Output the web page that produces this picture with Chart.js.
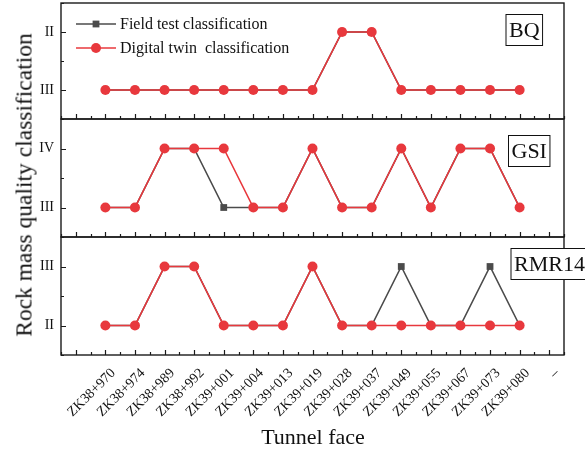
<!DOCTYPE html>
<html>
<head>
<meta charset="utf-8">
<script src="https://cdn.jsdelivr.net/npm/chart.js@4.4.1/dist/chart.umd.min.js"></script>
<style>
html, body { margin: 0; padding: 0; background: #fff; }
#wrap { position: relative; width: 585px; height: 450px; overflow: hidden; font-family: "Liberation Serif", "Times New Roman", serif; color: #111; }
#wrap canvas { position: absolute; left: 0; }
#ytitle { position: absolute; left: 24px; top: 185px; transform: translate(-50%, -50%) rotate(-90deg); white-space: nowrap; font-size: 23.5px; }
#xtitle { position: absolute; left: 313px; top: 437px; transform: translate(-50%, -50%); white-space: nowrap; font-size: 22px; }
</style>
</head>
<body>
<div id="wrap">
    <canvas id="c1" width="585" height="122" style="top:0px"></canvas>
    <canvas id="c2" width="585" height="124" style="top:116px"></canvas>
    <canvas id="c3" width="585" height="216" style="top:234px"></canvas>
    <div id="ytitle">Rock mass quality classification</div>
    <div id="xtitle">Tunnel face</div>
</div>

<script>
// =============================
// DATOS
// =============================
const tunnelFaces = [
    "ZK38+970", "ZK38+974", "ZK38+989", "ZK38+992", "ZK39+001",
    "ZK39+004", "ZK39+013", "ZK39+019", "ZK39+028", "ZK39+037",
    "ZK39+049", "ZK39+055", "ZK39+067", "ZK39+073", "ZK39+080"
];
const endLabel = "–";

const gradeLabels = { 2: "II", 3: "III", 4: "IV" };

const seriesNames = ["Field test classification", "Digital twin  classification"];

// II = 2, III = 3, IV = 4
const bqField  = [3, 3, 3, 3, 3, 3, 3, 3, 2, 2, 3, 3, 3, 3, 3];
const bqTwin   = [3, 3, 3, 3, 3, 3, 3, 3, 2, 2, 3, 3, 3, 3, 3];

const gsiField = [3, 3, 4, 4, 3, 3, 3, 4, 3, 3, 4, 3, 4, 4, 3];
const gsiTwin  = [3, 3, 4, 4, 4, 3, 3, 4, 3, 3, 4, 3, 4, 4, 3];

const rmrField = [2, 2, 3, 3, 2, 2, 2, 3, 2, 2, 3, 2, 2, 3, 2];
const rmrTwin  = [2, 2, 3, 3, 2, 2, 2, 3, 2, 2, 2, 2, 2, 2, 2];

const colorField = "#4b4b4b";
const colorTwin = "#e8383d";

// =============================
// PANELES
// =============================
const panels = [
    { canvas: "c1", name: "BQ",    field: bqField,  twin: bqTwin,  yMin: 1.5, yMax: 3.5, reverse: true,  boxX: 505.5, boxY: 14, legend: true,  xLabels: false },
    { canvas: "c2", name: "GSI",   field: gsiField, twin: gsiTwin, yMin: 2.5, yMax: 4.5, reverse: false, boxX: 508,   boxY: 19, legend: false, xLabels: false },
    { canvas: "c3", name: "RMR14", field: rmrField, twin: rmrTwin, yMin: 1.5, yMax: 3.5, reverse: false, boxX: 510.5, boxY: 14, legend: false, xLabels: true }
];

function toPoints(arr){
    return arr.map(function(v, i){ return { x: i, y: v }; });
}

// ticks solo en valores enteros dentro del rango
function integerTicks(s){
    let t = [];
    for(let v = Math.ceil(s.min); v <= Math.floor(s.max); v++){
        t.push({ value: v });
    }
    s.ticks = t;
}

function noPadding(s){
    s.paddingTop = 0;
    s.paddingBottom = 0;
    s.paddingLeft = 0;
    s.paddingRight = 0;
}

// marco, ticks interiores, etiqueta del panel y leyenda
const panelDecor = {
    id: "panelDecor",
    afterDatasetsDraw(chart, args, opts){
        const ctx = chart.ctx;
        const a = chart.chartArea;
        const xs = chart.scales.x;
        const ys = chart.scales.y;

        ctx.save();
        ctx.strokeStyle = "#1a1a1a";
        ctx.lineWidth = 1.4;
        ctx.strokeRect(a.left, a.top, a.right - a.left, a.bottom - a.top);

        ctx.lineWidth = 1.2;
        ctx.beginPath();
        for(let v = Math.ceil(xs.min * 2) / 2; v <= xs.max; v += 0.5){
            const px = Math.round(xs.getPixelForValue(v)) + 0.5;
            const len = Number.isInteger(v) ? 5 : 3;
            ctx.moveTo(px, a.bottom);
            ctx.lineTo(px, a.bottom - len);
        }
        for(let v = Math.ceil(ys.min * 2) / 2; v <= ys.max; v += 0.5){
            const py = Math.round(ys.getPixelForValue(v)) + 0.5;
            const len = Number.isInteger(v) ? 5 : 3;
            ctx.moveTo(a.left, py);
            ctx.lineTo(a.left + len, py);
        }
        ctx.stroke();

        // etiqueta con caja
        ctx.font = "22px 'Liberation Serif'";
        const tw = ctx.measureText(opts.name).width;
        const bx = opts.boxX, by = a.top + opts.boxY - 3, bw = tw + 6, bh = 31;
        ctx.fillStyle = "#fff";
        ctx.fillRect(bx, by, bw, bh);
        ctx.lineWidth = 1;
        ctx.strokeStyle = "#111";
        ctx.strokeRect(bx + 0.5, by + 0.5, bw, bh);
        ctx.fillStyle = "#111";
        ctx.textBaseline = "middle";
        ctx.fillText(opts.name, bx + 3.5, by + bh / 2 + 1.5);

        if(opts.legend){
            const rows = [
                { text: seriesNames[0], color: colorField, style: "rect", y: 24 },
                { text: seriesNames[1], color: colorTwin,  style: "circle", y: 48 }
            ];
            rows.forEach(function(r){
                ctx.strokeStyle = r.color;
                ctx.lineWidth = 1.5;
                ctx.beginPath();
                ctx.moveTo(76, r.y);
                ctx.lineTo(116, r.y);
                ctx.stroke();
                ctx.fillStyle = r.color;
                Chart.helpers.drawPoint(ctx, { pointStyle: r.style, radius: r.style === "rect" ? 4.8 : 5, borderWidth: 0 }, 96, r.y);
                ctx.fillStyle = "#111";
                ctx.font = "16px 'Liberation Serif'";
                ctx.textBaseline = "middle";
                ctx.fillText(r.text, 120, r.y + 1);
            });
        }
        ctx.restore();
    }
};

Chart.defaults.font.family = "'Liberation Serif', 'Times New Roman', serif";
Chart.defaults.color = "#111";

panels.forEach(function(p){

    let ctx = document.getElementById(p.canvas).getContext("2d");

    new Chart(ctx, {

        type: "line",

        data: {
            datasets: [
                {
                    label: seriesNames[1],
                    data: toPoints(p.twin),
                    order: 0,
                    borderColor: colorTwin,
                    backgroundColor: colorTwin,
                    borderWidth: 1.6,
                    pointStyle: "circle",
                    pointRadius: 5,
                    pointBorderWidth: 0,
                    tension: 0
                },
                {
                    label: seriesNames[0],
                    data: toPoints(p.field),
                    order: 1,
                    borderColor: colorField,
                    backgroundColor: colorField,
                    borderWidth: 1.6,
                    pointStyle: "rect",
                    pointRadius: 4.8,
                    pointBorderWidth: 0,
                    tension: 0
                }
            ]
        },

        options: {
            responsive: false,
            animation: false,
            layout: {
                autoPadding: false,
                padding: { left: 0, right: 21, top: 3, bottom: p.xLabels ? 0 : 3 }
            },
            plugins: {
                legend: { display: false },
                tooltip: { enabled: false },
                panelDecor: { name: p.name, boxX: p.boxX, boxY: p.boxY, legend: p.legend }
            },
            scales: {
                x: {
                    type: "linear",
                    min: -1.5,
                    max: 15.5,
                    display: p.xLabels,
                    grid: { display: false, drawTicks: false },
                    border: { display: false },
                    afterBuildTicks: integerTicks,
                    afterFit: function(s){
                        noPadding(s);
                        if(p.xLabels) s.height = 95;
                    },
                    ticks: {
                        autoSkip: false,
                        minRotation: 45,
                        maxRotation: 45,
                        padding: 10,
                        labelOffset: 8,
                        font: { size: 14 },
                        callback: function(v){
                            if(v === 15) return endLabel;
                            return tunnelFaces[v] || "";
                        }
                    }
                },
                y: {
                    type: "linear",
                    min: p.yMin,
                    max: p.yMax,
                    reverse: p.reverse,
                    grid: { display: false, drawTicks: false },
                    border: { display: false },
                    afterBuildTicks: integerTicks,
                    afterFit: function(s){
                        noPadding(s);
                        s.width = 61;
                    },
                    ticks: {
                        padding: 7,
                        font: { size: 14 },
                        callback: function(v){ return gradeLabels[v] || ""; }
                    }
                }
            }
        },

        plugins: [panelDecor]

    });

});
</script>
</body>
</html>
